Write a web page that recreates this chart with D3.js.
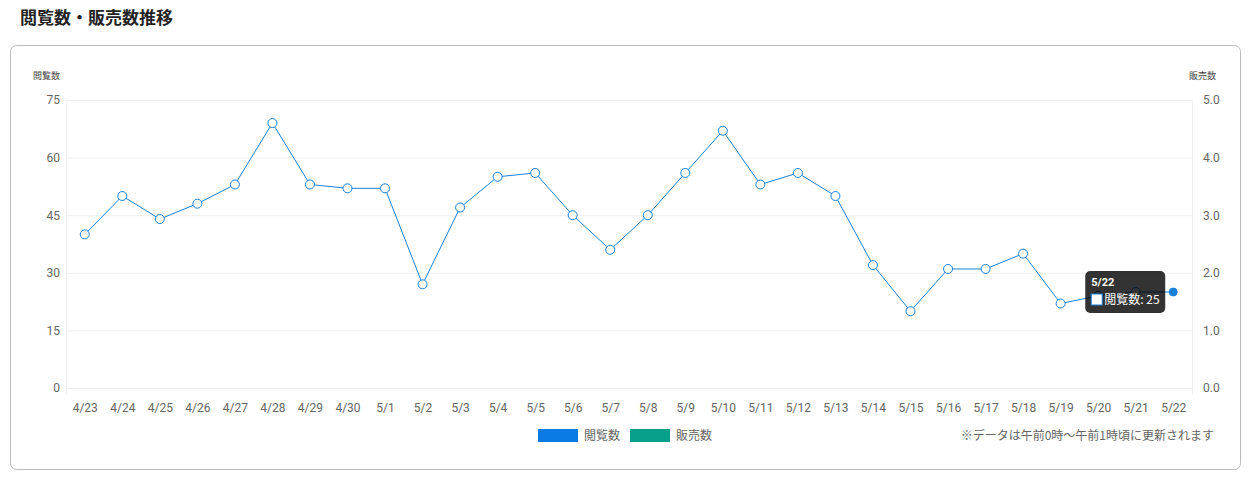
<html>
<head>
<script src="https://d3js.org/d3.v7.min.js"></script>
<style>
  body{margin:0;background:#fff;font-family:"Noto Sans CJK JP","Noto Sans",sans-serif;}
  svg{display:block;}
</style>
</head>
<body>
<script>
var dates = ["4/23","4/24","4/25","4/26","4/27","4/28","4/29","4/30","5/1","5/2","5/3","5/4","5/5","5/6","5/7","5/8","5/9","5/10","5/11","5/12","5/13","5/14","5/15","5/16","5/17","5/18","5/19","5/20","5/21","5/22"];
var views = [40,50,44,48,53,69,53,52,52,27,47,55,56,45,36,45,56,67,53,56,50,32,20,31,31,35,22,24,25,25];
var leftTicks = [0,15,30,45,60,75];
var rightTicks = [0,1,2,3,4,5];

var svg = d3.select("body").append("svg").attr("width",1255).attr("height",480);

svg.append("text").attr("x",20).attr("y",24).attr("font-size",17).attr("font-weight","bold")
   .attr("fill","#222").text("閲覧数・販売数推移");

svg.append("rect").attr("x",10.5).attr("y",45.5).attr("width",1230).attr("height",424)
   .attr("rx",6).attr("fill","#fff").attr("stroke","#bbb");

var x = d3.scalePoint().domain(dates).range([66,1192]).padding(0.5);
var y = d3.scaleLinear().domain([0,75]).range([388,100]);
var y2 = d3.scaleLinear().domain([0,5]).range([388,100]);

// grid
svg.append("g").selectAll("line").data(leftTicks).enter().append("line")
  .attr("x1",66).attr("x2",1192).attr("y1",function(d){return y(d)+0.5}).attr("y2",function(d){return y(d)+0.5})
  .attr("stroke","#f0f0f0");
[66,1192].forEach(function(px){
  svg.append("line").attr("x1",px+0.5).attr("x2",px+0.5).attr("y1",100).attr("y2",394).attr("stroke","#f0f0f0");
});

var yl = svg.append("g").attr("transform","translate(60,0)")
  .call(d3.axisLeft(y).tickValues(leftTicks).tickSize(0).tickPadding(0));
yl.select(".domain").remove();
yl.selectAll("text").attr("fill","#666").attr("font-size",12).attr("font-family","Roboto,sans-serif");

var yr = svg.append("g").attr("transform","translate(1203,0)")
  .call(d3.axisRight(y2).tickValues(rightTicks).tickSize(0).tickPadding(0));
yr.select(".domain").remove();
yr.selectAll("text").attr("fill","#666").attr("font-size",12).attr("font-family","Roboto,sans-serif");

var xa = svg.append("g").attr("transform","translate(0,400)")
  .call(d3.axisBottom(x).tickSize(0).tickPadding(3));
xa.select(".domain").remove();
xa.selectAll("text").attr("fill","#666").attr("font-size",12).attr("font-family","Roboto,sans-serif");

svg.append("text").attr("x",33).attr("y",79).attr("font-size",9).attr("fill","#444").text("閲覧数");
svg.append("text").attr("x",1216).attr("y",79).attr("font-size",9).attr("fill","#444").attr("text-anchor","end").text("販売数");

var line = d3.line().x(function(d,i){return x(dates[i])}).y(function(d){return y(d)});
svg.append("path").datum(views).attr("d",line).attr("fill","none").attr("stroke","#1a7fd9").attr("stroke-width",1);

svg.append("g").selectAll("circle").data(views).enter().append("circle")
  .attr("cx",function(d,i){return x(dates[i])}).attr("cy",function(d){return y(d)})
  .attr("r",function(d,i){return i==views.length-1?4:4.5})
  .attr("fill",function(d,i){return i==views.length-1?"#1a7fd9":"#fff"})
  .attr("stroke","#1a7fd9").attr("stroke-width",1);

// tooltip
var last = views.length-1;
var tx = x(dates[last]) - 88, ty = y(views[last]) - 21;
var tip = svg.append("g").attr("transform","translate("+tx+","+ty+")");
tip.append("rect").attr("width",80).attr("height",42).attr("rx",5).attr("fill","#000").attr("opacity",0.8);
tip.append("text").attr("x",6).attr("y",15).attr("font-size",11).attr("font-weight","bold").attr("fill","#fff")
   .attr("font-family","Roboto,sans-serif").text(dates[last]);
tip.append("rect").attr("x",6).attr("y",23).attr("width",11).attr("height",11).attr("fill","#fff").attr("stroke","#1a7fd9");
tip.append("text").attr("x",19).attr("y",33).attr("font-size",12).attr("fill","#fff").text("閲覧数: "+views[last]);

// legend
var legend = [{name:"閲覧数",color:"#0b7be3"},{name:"販売数",color:"#08a08a"}];
var lg = svg.append("g").selectAll("g").data(legend).enter().append("g")
  .attr("transform",function(d,i){return "translate("+(538+i*92)+",429)"});
lg.append("rect").attr("width",40).attr("height",13).attr("fill",function(d){return d.color});
lg.append("text").attr("x",46).attr("y",11).attr("font-size",12).attr("fill","#666").text(function(d){return d.name});

svg.append("text").attr("x",1214).attr("y",440).attr("text-anchor","end").attr("font-size",12).attr("fill","#666")
   .text("※データは午前0時〜午前1時頃に更新されます");
</script>
</body>
</html>
